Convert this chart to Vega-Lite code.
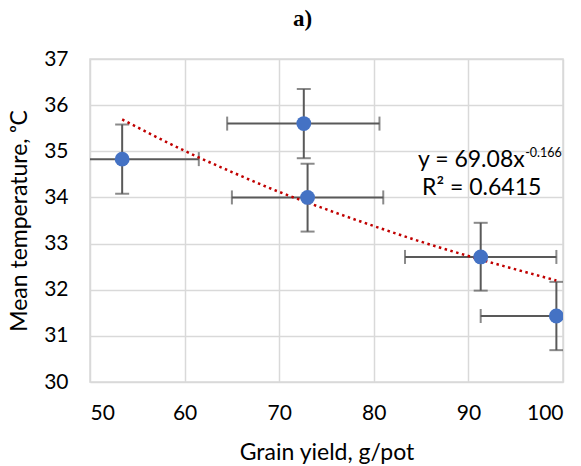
{
  "$schema": "https://vega.github.io/schema/vega-lite/v6.json",
  "width": 473,
  "height": 323,
  "autosize": {"type": "none"},
  "padding": {"left": 90, "top": 59, "right": 18, "bottom": 84},
  "background": "white",
  "title": {"text": "a)", "font": "Liberation Serif", "fontSize": 23, "fontWeight": "bold", "color": "#000000", "anchor": "middle", "offset": 17, "dx": -24},
  "config": {
    "view": {"stroke": "#d9d9d9", "strokeWidth": 1.5},
    "axis": {"labelFont": "Lato", "titleFont": "Lato", "labelFontSize": 21, "titleFontSize": 23, "labelColor": "#000000", "titleColor": "#000000", "titleFontWeight": "normal", "gridColor": "#d9d9d9", "gridWidth": 1.5, "domain": false, "ticks": false}
  },
  "datasets": {
    "pts": [
      {"yield": 53.4, "temp": 34.83, "xlo": 45.3, "xhi": 61.5, "ylo": 34.08, "yhi": 35.58},
      {"yield": 72.6, "temp": 35.6, "xlo": 64.5, "xhi": 80.6, "ylo": 34.85, "yhi": 36.35},
      {"yield": 73.0, "temp": 34.0, "xlo": 65.0, "xhi": 81.0, "ylo": 33.26, "yhi": 34.73},
      {"yield": 91.3, "temp": 32.71, "xlo": 83.3, "xhi": 99.3, "ylo": 31.98, "yhi": 33.45},
      {"yield": 99.3, "temp": 31.43, "xlo": 91.3, "xhi": 107.3, "ylo": 30.69, "yhi": 32.17}
    ],
    "trend": [
      {"yield": 53.4, "temp": 35.69},
      {"yield": 60, "temp": 35.01},
      {"yield": 65, "temp": 34.55},
      {"yield": 70, "temp": 34.12},
      {"yield": 75, "temp": 33.74},
      {"yield": 80, "temp": 33.38},
      {"yield": 85, "temp": 33.04},
      {"yield": 90, "temp": 32.73},
      {"yield": 95, "temp": 32.44},
      {"yield": 99.3, "temp": 32.2}
    ],
    "eq": [
      {"yield": 95.95, "temp": 34.81, "txt": "y = 69.08x"}
    ],
    "sup": [
      {"yield": 96.0, "temp": 34.97, "txt": "-0.166"}
    ],
    "r2": [
      {"yield": 91.4, "temp": 34.2, "txt": "R² = 0.6415"}
    ]
  },
  "layer": [
    {
      "data": {"name": "pts"},
      "mark": {"type": "rule", "color": "#595959", "strokeWidth": 2, "clip": true},
      "encoding": {
        "x": {"field": "xlo", "type": "quantitative", "scale": {"domain": [50, 100]}, "axis": {"title": "Grain yield, g/pot", "values": [50, 60, 70, 80, 90, 100], "labelPadding": 20, "titlePadding": 18}},
        "x2": {"field": "xhi"},
        "y": {"field": "temp", "type": "quantitative", "scale": {"domain": [30, 37]}, "axis": {"title": "Mean temperature, ᵒC", "values": [30, 31, 32, 33, 34, 35, 36, 37], "labelPadding": 22, "titlePadding": 12}}
      }
    },
    {
      "data": {"name": "pts"},
      "mark": {"type": "rule", "color": "#595959", "strokeWidth": 2, "clip": true},
      "encoding": {
        "x": {"field": "yield", "type": "quantitative"},
        "y": {"field": "ylo", "type": "quantitative"},
        "y2": {"field": "yhi"}
      }
    },
    {
      "data": {"name": "pts"},
      "mark": {"type": "tick", "color": "#595959", "thickness": 2, "size": 14, "orient": "vertical", "clip": true},
      "encoding": {"x": {"field": "xlo", "type": "quantitative"}, "y": {"field": "temp", "type": "quantitative"}}
    },
    {
      "data": {"name": "pts"},
      "mark": {"type": "tick", "color": "#595959", "thickness": 2, "size": 14, "orient": "vertical", "clip": true},
      "encoding": {"x": {"field": "xhi", "type": "quantitative"}, "y": {"field": "temp", "type": "quantitative"}}
    },
    {
      "data": {"name": "pts"},
      "mark": {"type": "tick", "color": "#595959", "thickness": 2, "size": 14, "orient": "horizontal", "clip": true},
      "encoding": {"x": {"field": "yield", "type": "quantitative"}, "y": {"field": "ylo", "type": "quantitative"}}
    },
    {
      "data": {"name": "pts"},
      "mark": {"type": "tick", "color": "#595959", "thickness": 2, "size": 14, "orient": "horizontal", "clip": true},
      "encoding": {"x": {"field": "yield", "type": "quantitative"}, "y": {"field": "yhi", "type": "quantitative"}}
    },
    {
      "data": {"name": "trend"},
      "mark": {"type": "line", "color": "#c00000", "strokeWidth": 2.5, "strokeDash": [2.5, 3.5], "interpolate": "monotone"},
      "encoding": {"x": {"field": "yield", "type": "quantitative"}, "y": {"field": "temp", "type": "quantitative"}}
    },
    {
      "data": {"name": "pts"},
      "mark": {"type": "point", "filled": true, "opacity": 1, "color": "#4472c4", "size": 220, "clip": true},
      "encoding": {"x": {"field": "yield", "type": "quantitative"}, "y": {"field": "temp", "type": "quantitative"}}
    },
    {
      "data": {"name": "eq"},
      "mark": {"type": "text", "font": "Lato", "fontSize": 23, "color": "#000000", "baseline": "middle", "align": "right"},
      "encoding": {"x": {"field": "yield", "type": "quantitative"}, "y": {"field": "temp", "type": "quantitative"}, "text": {"field": "txt"}}
    },
    {
      "data": {"name": "sup"},
      "mark": {"type": "text", "font": "Lato", "fontSize": 12.5, "color": "#000000", "baseline": "middle", "align": "left"},
      "encoding": {"x": {"field": "yield", "type": "quantitative"}, "y": {"field": "temp", "type": "quantitative"}, "text": {"field": "txt"}}
    },
    {
      "data": {"name": "r2"},
      "mark": {"type": "text", "font": "Lato", "fontSize": 23, "color": "#000000", "baseline": "middle", "align": "center"},
      "encoding": {"x": {"field": "yield", "type": "quantitative"}, "y": {"field": "temp", "type": "quantitative"}, "text": {"field": "txt"}}
    }
  ]
}
